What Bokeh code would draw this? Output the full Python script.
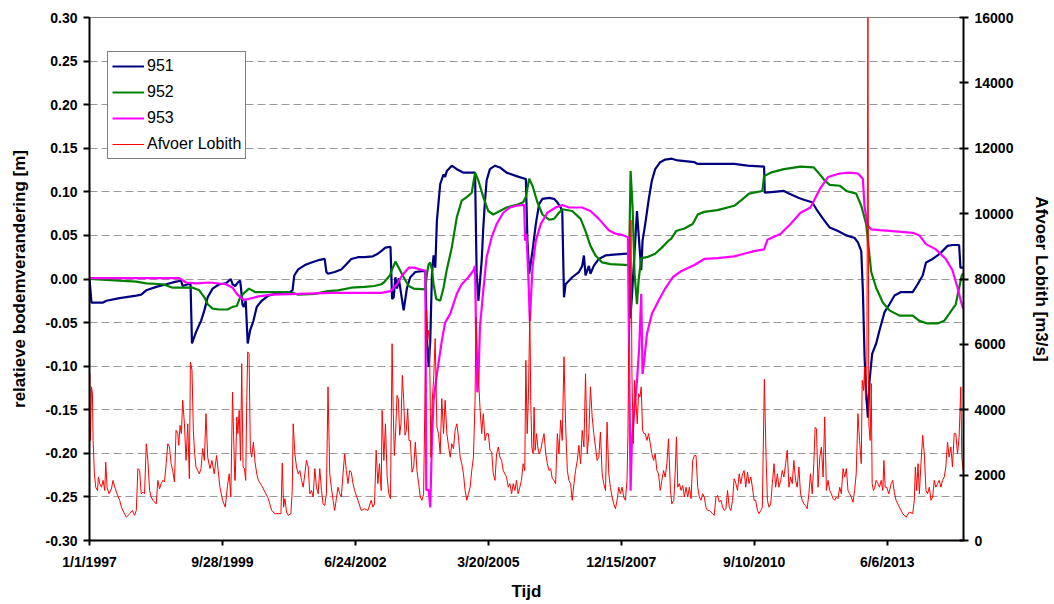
from bokeh.plotting import figure
from bokeh.models import Range1d, LinearAxis, FixedTicker, NumeralTickFormatter, Legend, LegendItem
from bokeh.embed import file_html
from bokeh.resources import INLINE

FONT = "Liberation Sans"

# x values are days since 1/1/1997
x_ticks = [0, 1000, 2000, 3000, 4000, 5000, 6000]
x_tick_labels = ["1/1/1997", "9/28/1999", "6/24/2002", "3/20/2005", "12/15/2007", "9/10/2010", "6/6/2013"]
x_end = 6574
left_ticks = [-0.30, -0.25, -0.20, -0.15, -0.10, -0.05, 0.0, 0.05, 0.10, 0.15, 0.20, 0.25, 0.30]
right_ticks = [0, 2000, 4000, 6000, 8000, 10000, 12000, 14000, 16000]

# 951 (relatieve bodemverandering, m)
s951 = [(0,0.000),(15,-0.027),(102,-0.027),(127,-0.025),(227,-0.022),(352,-0.019),(389,-0.018),(427,-0.013),(502,-0.009),(577,-0.006),(651,-0.003),(689,-0.002),(701,-0.008),(739,-0.006),(760,-0.006),(771,-0.074),(801,-0.061),(839,-0.048),(864,-0.036),(889,-0.021),(926,-0.011),(976,-0.006),(1026,-0.005),(1063,0.000),(1076,-0.006),(1096,-0.008),(1116,-0.004),(1133,-0.002),(1140,-0.011),(1150,-0.029),(1160,-0.032),(1175,-0.025),(1190,-0.074),(1208,-0.059),(1233,-0.048),(1258,-0.032),(1295,-0.025),(1345,-0.019),(1395,-0.017),(1445,-0.016),(1507,-0.015),(1527,-0.013),(1540,0.004),(1570,0.011),(1620,0.016),(1670,0.019),(1732,0.022),(1769,0.023),(1782,0.008),(1794,0.006),(1844,0.008),(1894,0.011),(1932,0.017),(1969,0.023),(2019,0.025),(2069,0.025),(2131,0.026),(2169,0.029),(2194,0.032),(2226,0.036),(2264,0.037),(2276,-0.023),(2288,-0.021),(2301,0.002),(2313,-0.011),(2326,0.001),(2338,-0.011),(2363,-0.036),(2388,-0.010),(2413,0.002),(2451,0.008),(2501,0.009),(2526,0.009),(2538,-0.071),(2551,-0.101),(2563,-0.071),(2576,0.006),(2588,0.027),(2601,0.013),(2613,0.067),(2638,0.109),(2663,0.120),(2675,0.117),(2688,0.124),(2725,0.130),(2763,0.126),(2813,0.122),(2900,0.122),(2912,0.006),(2925,-0.025),(2950,0.021),(2962,0.059),(2975,0.090),(2987,0.113),(3012,0.126),(3050,0.130),(3087,0.128),(3137,0.122),(3212,0.118),(3274,0.115),(3282,0.115),(3294,0.044),(3307,0.006),(3332,0.032),(3357,0.063),(3382,0.086),(3407,0.092),(3457,0.093),(3494,0.092),(3519,0.088),(3544,0.082),(3556,0.078),(3569,-0.021),(3581,-0.006),(3631,0.002),(3681,0.008),(3706,0.015),(3719,0.027),(3731,0.004),(3756,0.015),(3768,0.006),(3793,0.015),(3831,0.023),(3881,0.027),(3943,0.028),(4043,0.029),(4058,0.029),(4068,-0.045),(4080,-0.020),(4118,0.078),(4130,0.052),(4150,0.010),(4160,0.044),(4180,0.063),(4205,0.090),(4230,0.113),(4255,0.126),(4293,0.134),(4330,0.137),(4380,0.138),(4425,0.136),(4550,0.134),(4575,0.132),(4849,0.132),(4949,0.130),(5074,0.129),(5079,0.099),(5149,0.100),(5223,0.101),(5261,0.098),(5336,0.093),(5373,0.091),(5436,0.088),(5468,0.080),(5518,0.069),(5568,0.059),(5630,0.055),(5693,0.050),(5755,0.047),(5780,0.042),(5805,0.032),(5817,-0.013),(5830,-0.090),(5842,-0.132),(5855,-0.159),(5867,-0.117),(5887,-0.086),(5917,-0.074),(5942,-0.059),(5980,-0.038),(6017,-0.029),(6055,-0.019),(6104,-0.015),(6192,-0.015),(6229,-0.006),(6267,0.004),(6292,0.019),(6342,0.023),(6379,0.027),(6416,0.032),(6454,0.038),(6491,0.039),(6541,0.039),(6551,0.013),(6571,0.013)]

# 952
s952 = [(0,0.000),(127,-0.001),(352,-0.003),(427,-0.005),(552,-0.006),(626,-0.010),(726,-0.010),(776,-0.010),(826,-0.013),(864,-0.021),(889,-0.029),(926,-0.034),(976,-0.035),(1038,-0.035),(1076,-0.032),(1108,-0.031),(1133,-0.021),(1170,-0.015),(1200,-0.011),(1245,-0.015),(1320,-0.015),(1445,-0.015),(1532,-0.016),(1570,-0.018),(1695,-0.017),(1794,-0.014),(1869,-0.013),(1969,-0.010),(2069,-0.009),(2144,-0.008),(2194,-0.006),(2214,-0.004),(2259,0.004),(2276,0.011),(2301,0.020),(2326,0.013),(2363,0.002),(2401,-0.008),(2438,-0.011),(2526,-0.012),(2538,0.006),(2551,0.017),(2563,0.019),(2576,0.011),(2588,-0.006),(2608,-0.023),(2638,-0.025),(2663,-0.010),(2688,0.011),(2725,0.036),(2763,0.071),(2800,0.090),(2838,0.094),(2875,0.099),(2900,0.122),(2925,0.113),(2962,0.094),(3000,0.078),(3037,0.074),(3087,0.078),(3137,0.082),(3212,0.085),(3262,0.088),(3282,0.094),(3307,0.115),(3332,0.107),(3369,0.088),(3407,0.074),(3457,0.068),(3494,0.069),(3531,0.076),(3556,0.080),(3631,0.078),(3694,0.069),(3731,0.055),(3768,0.038),(3806,0.027),(3856,0.019),(3918,0.017),(4058,0.016),(4070,0.124),(4085,0.082),(4100,0.006),(4118,-0.029),(4130,-0.002),(4150,0.024),(4193,0.025),(4255,0.029),(4305,0.036),(4355,0.044),(4375,0.046),(4412,0.055),(4475,0.058),(4537,0.063),(4575,0.074),(4624,0.077),(4724,0.079),(4849,0.084),(4899,0.090),(4961,0.098),(5061,0.101),(5074,0.118),(5124,0.122),(5223,0.126),(5348,0.129),(5448,0.128),(5493,0.120),(5530,0.113),(5568,0.108),(5643,0.107),(5693,0.101),(5767,0.098),(5805,0.084),(5842,0.063),(5880,0.008),(5917,-0.010),(5967,-0.027),(6017,-0.036),(6092,-0.042),(6192,-0.042),(6242,-0.048),(6304,-0.051),(6379,-0.051),(6429,-0.048),(6466,-0.040),(6516,-0.029),(6541,-0.010),(6561,0.004),(6571,0.006)]

# 953
s953 = [(0,0.001),(676,0.001),(726,-0.004),(801,-0.005),(901,-0.004),(1026,-0.006),(1076,-0.010),(1108,-0.017),(1158,-0.024),(1195,-0.023),(1270,-0.020),(1370,-0.018),(1570,-0.017),(1819,-0.016),(2194,-0.016),(2264,-0.014),(2313,-0.006),(2351,0.004),(2401,0.013),(2438,0.013),(2513,0.010),(2526,0.010),(2533,-0.242),(2551,-0.242),(2563,-0.262),(2576,-0.185),(2588,-0.139),(2613,-0.109),(2650,-0.071),(2675,-0.050),(2713,-0.040),(2763,-0.017),(2800,-0.006),(2850,0.002),(2888,0.010),(2900,0.015),(2907,-0.055),(2917,-0.130),(2925,-0.117),(2937,-0.055),(2962,-0.013),(2987,0.025),(3025,0.048),(3062,0.063),(3112,0.076),(3162,0.082),(3212,0.084),(3269,0.085),(3277,0.044),(3287,0.052),(3302,-0.002),(3312,-0.048),(3332,0.013),(3357,0.044),(3394,0.063),(3444,0.076),(3506,0.082),(3556,0.085),(3606,0.082),(3706,0.082),(3768,0.078),(3831,0.069),(3906,0.056),(3956,0.052),(4018,0.050),(4050,0.048),(4060,-0.109),(4070,-0.243),(4080,-0.185),(4100,-0.147),(4118,-0.117),(4135,-0.078),(4150,-0.017),(4160,-0.109),(4175,-0.090),(4193,-0.063),(4230,-0.040),(4280,-0.025),(4330,-0.011),(4387,0.002),(4450,0.009),(4550,0.016),(4624,0.023),(4724,0.024),(4849,0.026),(4924,0.029),(4999,0.032),(5074,0.034),(5099,0.045),(5199,0.052),(5273,0.063),(5348,0.076),(5423,0.082),(5443,0.088),(5493,0.103),(5555,0.117),(5643,0.121),(5718,0.122),(5780,0.121),(5817,0.115),(5830,0.082),(5855,0.061),(5880,0.057),(5942,0.056),(6042,0.055),(6192,0.053),(6242,0.050),(6292,0.040),(6366,0.034),(6441,0.023),(6491,0.010),(6529,-0.010),(6554,-0.025),(6571,-0.034)]

# Afvoer Lobith (m3/s)
afvoer = [(0,3400),(2,5100),(7,3060),(15,4700),(22,4490),(27,3060),(37,2040),(47,1630),(60,1530),(67,1940),(77,1740),(90,1630),(102,1840),(115,1530),(122,2400),(132,1630),(147,1430),(165,1580),(177,1840),(190,1630),(207,1430),(227,1230),(240,1020),(257,870),(277,710),(302,820),(322,920),(339,770),(352,920),(364,2200),(377,2140),(389,1430),(402,1480),(414,1430),(427,2960),(439,2450),(452,1530),(464,1330),(477,1230),(502,1120),(514,1840),(527,1580),(539,1740),(552,1840),(564,1790),(577,2350),(589,2960),(602,2860),(614,2350),(626,2140),(639,1790),(651,3370),(664,3270),(671,2910),(681,3520),(691,3270),(701,4290),(714,3570),(726,2450),(739,3570),(751,1890),(759,5460),(771,5210),(781,3370),(791,2650),(801,2250),(814,2140),(826,2040),(839,2200),(851,2810),(864,2450),(876,3880),(889,2550),(906,2200),(921,2450),(938,2040),(956,2600),(968,2140),(981,1630),(1001,1230),(1021,1020),(1038,1680),(1051,2040),(1063,1330),(1076,4540),(1083,3370),(1093,1840),
(1096,1840),(1108,3780),(1116,3270),(1126,3980),(1136,2450),(1145,5410),(1155,2250),(1165,2200),(1175,1840),(1183,4290),(1190,5770),(1200,5720),(1210,2760),(1220,2550),(1233,3010),(1245,2400),(1258,2040),(1270,1840),(1295,1680),(1320,1480),(1345,1280),(1370,920),(1395,820),(1420,820),(1440,820),(1450,2370),(1460,1020),(1470,1280),(1482,870),(1495,770),(1515,820),(1525,1530),(1532,3570),(1545,2650),(1557,2250),(1570,2040),(1582,2140),(1595,1840),(1607,1630),(1620,2040),(1632,2450),(1645,2250),(1657,1430),(1670,1530),(1682,1330),(1695,2200),(1707,1630),(1720,1430),(1732,2200),(1745,1530),(1757,1120),(1769,1070),(1782,1430),(1794,4700),(1807,2040),(1819,1630),(1832,1230),(1844,920),(1857,1280),(1869,1630),(1882,1430),(1894,1330),(1907,2040),(1919,2650),(1932,2140),(1944,1740),(1957,2140),(1969,2090),(1982,1740),(1994,1530),(2019,1230),(2044,920),(2069,970),(2094,920),(2119,1230),(2131,1020),(2144,1120),(2156,2760),(2169,1740),(2181,2350),(2194,1530),
(2201,3980),(2214,2450),(2226,3570),(2239,1940),(2251,1430),(2264,1280),(2276,6020),(2284,4080),(2293,2600),(2303,3370),(2313,4440),(2323,4340),(2333,3220),(2343,3570),(2353,5050),(2363,4340),(2373,3220),(2383,3370),(2393,4030),(2403,3060),(2413,3060),(2426,2090),(2438,2250),(2451,3010),(2463,2140),(2476,1740),(2488,1330),(2501,1230),(2513,1430),(2526,5100),(2533,7040),(2543,6130),(2551,6430),(2558,5920),(2568,2550),(2578,4290),(2588,4900),(2600,6180),(2613,3470),(2625,3270),(2638,2650),(2650,4340),(2663,3270),(2675,4290),(2688,3270),(2700,2910),(2713,2550),(2725,2960),(2738,2810),(2750,3370),(2763,3570),(2775,3170),(2788,2550),(2800,2350),(2813,2040),(2825,1530),(2838,1230),(2850,1430),(2863,1630),(2875,2140),(2888,2550),(2900,4290),(2907,6840),(2917,5510),(2927,4900),(2937,4080),(2950,3270),(2962,3880),(2975,3060),(2987,3270),(3000,3270),(3012,2760),(3025,2710),(3037,2040),(3050,1840),(3062,2650),(3075,2860),(3087,2550),(3100,2450),(3112,2140),(3137,1940),(3150,1630),(3162,1740),(3175,1430),(3187,1740),(3200,1530),(3212,1840),(3224,1430),(3237,1630),(3249,1840),(3262,2350),(3274,2140),(3282,5510),
(3292,3270),(3302,4490),(3312,7040),(3319,4290),(3327,2860),(3337,2650),(3344,4080),(3352,2760),(3362,3270),(3372,2860),(3382,2650),(3394,2760),(3407,3060),(3419,3270),(3432,2650),(3444,2350),(3457,2140),(3469,2200),(3481,1890),(3494,1840),(3506,1740),(3519,3270),(3531,2650),(3544,3680),(3556,3060),(3569,5620),(3581,3570),(3594,2140),(3606,1840),(3619,1740),(3631,1230),(3644,1740),(3656,2140),(3669,2450),(3681,2910),(3694,2350),(3706,3370),(3719,2860),(3731,5100),(3744,2650),(3756,3270),(3768,4700),(3781,3780),(3793,3270),(3806,2860),(3818,2450),(3831,2550),(3843,3320),(3856,2040),(3868,1740),(3881,1530),(3893,3620),(3906,2040),(3918,1630),(3931,1330),(3943,1120),(3956,970),(3968,1230),(3981,1630),(3993,1430),(4006,1630),(4018,1330),(4031,1230),(4043,1840),(4050,3270),(4055,5620),(4065,6630),(4073,9800),(4080,5100),(4090,2960),(4100,4900),(4110,4290),(4120,3570),(4130,4490),(4140,4390),(4150,4700),(4160,3370),(4170,3270),(4180,3270),(4193,3060),(4205,3270),(4218,2960),(4230,2650),(4243,2450),(4255,2650),(4268,2140),(4280,2040),(4293,1530),(4305,1840),(4318,2140),(4330,1940),(4343,2350),(4355,3110),
(4370,1530),(4380,1120),(4395,1230),(4405,2040),(4415,3170),(4425,1630),(4437,1740),(4450,1530),(4462,1680),(4475,1330),(4487,1630),(4500,1330),(4512,1630),(4525,1280),(4537,2450),(4550,2600),(4562,2600),(4575,1630),(4587,1330),(4600,1230),(4612,1430),(4624,1330),(4637,1020),(4649,920),(4662,920),(4674,870),(4687,820),(4699,770),(4712,1330),(4724,1380),(4737,1170),(4749,1230),(4762,1020),(4774,920),(4787,970),(4799,1530),(4812,1020),(4824,920),(4837,1230),(4849,1890),(4862,1740),(4874,1530),(4887,2040),(4899,1740),(4912,2040),(4924,2140),(4936,1630),(4949,2090),(4961,1740),(4974,1940),(4986,1630),(4999,1230),(5011,1230),(5024,920),(5036,820),(5049,920),(5061,1020),(5076,4930),(5089,2550),(5099,1230),(5111,1020),(5124,1120),(5136,1740),(5149,2350),(5161,1630),(5174,2040),(5186,1630),(5199,1840),(5211,2140),(5223,1940),(5236,2350),(5248,2760),(5261,1630),(5273,1940),(5286,1740),(5298,2450),(5311,1840),(5323,1630),(5336,2250),(5348,1430),(5361,1230),(5373,1120),(5386,1070),(5398,970),(5411,1430),(5423,2040),(5436,1430),(5448,2350),
(5458,3460),(5468,3420),(5480,1630),(5493,2550),(5505,2860),(5518,1940),(5530,3780),(5543,1530),(5555,1840),(5568,1530),(5580,1430),(5593,1280),(5605,1230),(5618,1330),(5630,1280),(5643,1630),(5655,1430),(5668,2200),(5680,1940),(5693,2200),(5705,1530),(5718,1430),(5730,1330),(5743,1170),(5755,1530),(5767,2040),(5780,3880),(5792,3060),(5805,2350),(5812,4900),(5822,4590),(5830,5310),(5837,4290),(5847,5100),(5855,16000),(5862,3570),(5872,3060),(5880,4800),(5887,1740),(5897,1530),(5907,1630),(5917,1840),(5930,1740),(5942,1630),(5955,1840),(5967,1530),(5975,2450),(5985,1630),(5997,1630),(6012,1430),(6030,1740),(6042,1840),(6055,1430),(6067,1230),(6092,1020),(6117,820),(6142,710),(6167,870),(6192,820),(6204,1230),(6212,2250),(6222,1530),(6232,2350),(6242,1430),(6254,2350),(6267,3220),(6279,2650),(6292,1530),(6304,1430),(6317,1630),(6329,1230),(6342,1330),(6354,1840),(6366,1630),(6379,1740),(6391,1840),(6404,1630),(6416,1840),(6429,1940),(6441,2250),(6454,3010),(6466,2550),(6479,2860),(6491,2250),(6504,3270),(6516,3270),(6529,2650),(6541,3160),(6554,4700),(6561,2550),(6571,2140)]

p = figure(width=1054, height=604, output_backend="svg", toolbar_location=None,
           x_range=Range1d(0, x_end), y_range=Range1d(-0.30, 0.30),
           min_border_left=89, min_border_right=87, min_border_top=17, min_border_bottom=64,
           background_fill_color="white", border_fill_color="white")
p.extra_y_ranges = {"q": Range1d(0, 16000)}
p.outline_line_color = "#808080"
p.outline_line_width = 1

p.xgrid.visible = False
p.ygrid.grid_line_color = "#9a9a9a"
p.ygrid.grid_line_dash = "8 4"
p.ygrid.grid_line_width = 1

def style_axis(ax):
    ax.axis_line_color = "black"
    ax.axis_line_width = 2
    ax.major_tick_line_color = "black"
    ax.major_tick_line_width = 2
    ax.minor_tick_line_color = None
    ax.major_label_text_font = FONT
    ax.major_label_text_font_style = "bold"
    ax.major_label_text_font_size = "14px"
    ax.major_label_text_color = "black"
    ax.axis_label_text_font = FONT
    ax.axis_label_text_font_style = "bold"
    ax.axis_label_text_font_size = "17px"
    ax.axis_label_text_color = "black"

xa = p.xaxis[0]
style_axis(xa)
xa.ticker = FixedTicker(ticks=x_ticks)
xa.major_label_overrides = {t: l for t, l in zip(x_ticks, x_tick_labels)}
xa.major_tick_in = 0
xa.major_tick_out = 5
xa.major_label_standoff = 8
xa.axis_label = "Tijd"
xa.axis_label_standoff = 9

ya = p.yaxis[0]
style_axis(ya)
ya.ticker = FixedTicker(ticks=left_ticks)
ya.formatter = NumeralTickFormatter(format="0.00")
ya.major_tick_in = 0
ya.major_tick_out = 6
ya.major_label_standoff = 6
ya.axis_label = "relatieve bodemverandering [m]"
ya.axis_label_standoff = 14

yr = LinearAxis(y_range_name="q", ticker=FixedTicker(ticks=right_ticks),
                axis_label="Afvoer Lobith [m3/s]")
style_axis(yr)
yr.major_tick_in = 4
yr.major_tick_out = 5
yr.major_label_standoff = 6
yr.axis_label_standoff = 16
p.add_layout(yr, "right")

def xs(s): return [a for a, b in s]
def ys(s): return [b for a, b in s]

r1 = p.line(xs(s951), ys(s951), line_color="#000080", line_width=2.2)
r2 = p.line(xs(s952), ys(s952), line_color="#008000", line_width=2.2)
r3 = p.line(xs(s953), ys(s953), line_color="#FF00FF", line_width=2.2)
r4 = p.line(xs(afvoer), ys(afvoer), line_color="#FF0000", line_width=1, y_range_name="q")

legend = Legend(items=[LegendItem(label="951", renderers=[r1]),
                       LegendItem(label="952", renderers=[r2]),
                       LegendItem(label="953", renderers=[r3]),
                       LegendItem(label="Afvoer Lobith", renderers=[r4])],
                location=(18, 381))
legend.label_text_font = FONT
legend.label_text_font_size = "16px"
legend.label_text_color = "black"
legend.glyph_width = 32
legend.glyph_height = 20
legend.label_height = 20
legend.label_standoff = 3
legend.spacing = 6
legend.padding = 4
legend.margin = 0
legend.border_line_color = "black"
legend.border_line_width = 1
legend.background_fill_color = "white"
legend.background_fill_alpha = 1
p.add_layout(legend)

open("out.html", "w").write(file_html(p, INLINE))
